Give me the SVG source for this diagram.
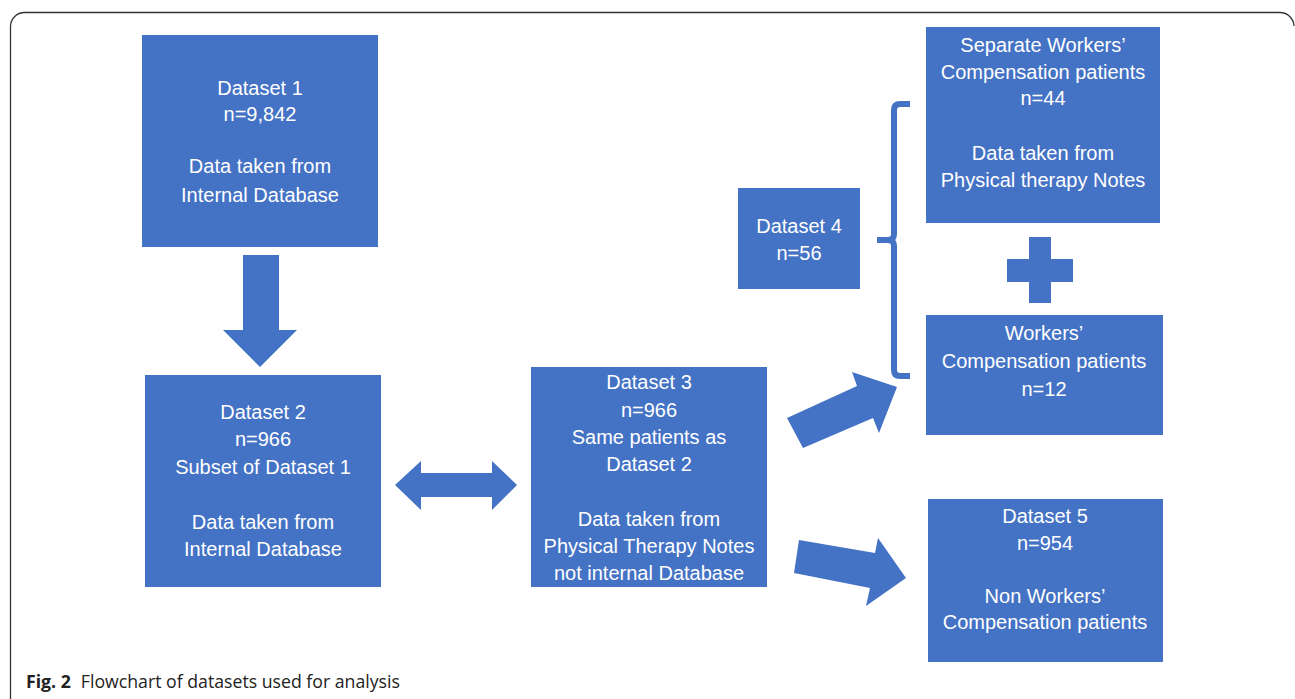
<svg xmlns="http://www.w3.org/2000/svg" width="1295" height="699" viewBox="0 0 1295 699">
<style>
.box{fill:#4472C4}
.arr{fill:#4472C4}
.t{fill:#fff;font-family:"Liberation Sans",Arial,sans-serif;font-size:20px;text-anchor:middle}
.cap{font-family:"Open Sans","Liberation Sans",sans-serif;font-size:17.7px;fill:#222}
</style>
<rect width="1295" height="699" fill="#fff"/>
<path d="M10.5 699 V26 A14 14 0 0 1 24.5 12.5 H1280 A14 14 0 0 1 1294 26" fill="none" stroke="#333" stroke-width="1.3"/>
<g id="dataset1">
<rect class="box" x="142" y="35" width="236" height="212"/>
<text class="t" x="260" y="95">Dataset 1</text>
<text class="t" x="260" y="121">n=9,842</text>
<text class="t" x="260" y="173">Data taken from</text>
<text class="t" x="260" y="202">Internal Database</text>
</g>
<g id="dataset2">
<rect class="box" x="145" y="375" width="236" height="212"/>
<text class="t" x="263" y="419">Dataset 2</text>
<text class="t" x="263" y="446">n=966</text>
<text class="t" x="263" y="474">Subset of Dataset 1</text>
<text class="t" x="263" y="529">Data taken from</text>
<text class="t" x="263" y="556">Internal Database</text>
</g>
<g id="dataset3">
<rect class="box" x="531" y="367" width="236" height="220"/>
<text class="t" x="649" y="389">Dataset 3</text>
<text class="t" x="649" y="417">n=966</text>
<text class="t" x="649" y="444">Same patients as</text>
<text class="t" x="649" y="471">Dataset 2</text>
<text class="t" x="649" y="526">Data taken from</text>
<text class="t" x="649" y="553">Physical Therapy Notes</text>
<text class="t" x="649" y="580">not internal Database</text>
</g>
<g id="dataset4">
<rect class="box" x="738" y="188" width="122" height="101"/>
<text class="t" x="799" y="233">Dataset 4</text>
<text class="t" x="799" y="260">n=56</text>
</g>
<g id="separate-wc">
<rect class="box" x="926" y="27" width="234" height="196"/>
<text class="t" x="1043" y="52">Separate Workers’</text>
<text class="t" x="1043" y="79">Compensation patients</text>
<text class="t" x="1043" y="105">n=44</text>
<text class="t" x="1043" y="160">Data taken from</text>
<text class="t" x="1043" y="187">Physical therapy Notes</text>
</g>
<g id="wc">
<rect class="box" x="926" y="315" width="237" height="120"/>
<text class="t" x="1044" y="340">Workers’</text>
<text class="t" x="1044" y="368">Compensation patients</text>
<text class="t" x="1044" y="396">n=12</text>
</g>
<g id="dataset5">
<rect class="box" x="928" y="499" width="235" height="163"/>
<text class="t" x="1045" y="523">Dataset 5</text>
<text class="t" x="1045" y="550">n=954</text>
<text class="t" x="1045" y="603">Non Workers’</text>
<text class="t" x="1045" y="629">Compensation patients</text>
</g>
<g id="plus">
<path class="arr" d="M1029 237 H1051 V259 H1073 V282 H1051 V303 H1029 V282 H1007 V259 H1029 Z"/>
</g>
<g id="connectors">
<path class="arr" d="M243 255 H279 V330 H297 L260 367 L223 330 H243 Z"/>
<path class="arr" d="M395 485 L421 461 V473 H492 V461 L517 485 L492 510 V497 H421 V510 Z"/>
<path class="arr" d="M787 418 L857 386 L852 372 L897 387 L879 433 L873 418 L803 448 Z"/>
<path class="arr" d="M799 540 L875 553 L878 538 L906 578 L866 606 L870 588 L794 573 Z"/>
<path d="M910 104 H900 Q894 104 894 110 V234 Q894 240 888 240 H877 M888 240 Q894 240 894 246 V370 Q894 376 900 376 H910" fill="none" stroke="#4472C4" stroke-width="6"/>
</g>
<text class="cap" x="26" y="688"><tspan font-weight="bold">Fig. 2</tspan><tspan dx="10">Flowchart of datasets used for analysis</tspan></text>
</svg>
